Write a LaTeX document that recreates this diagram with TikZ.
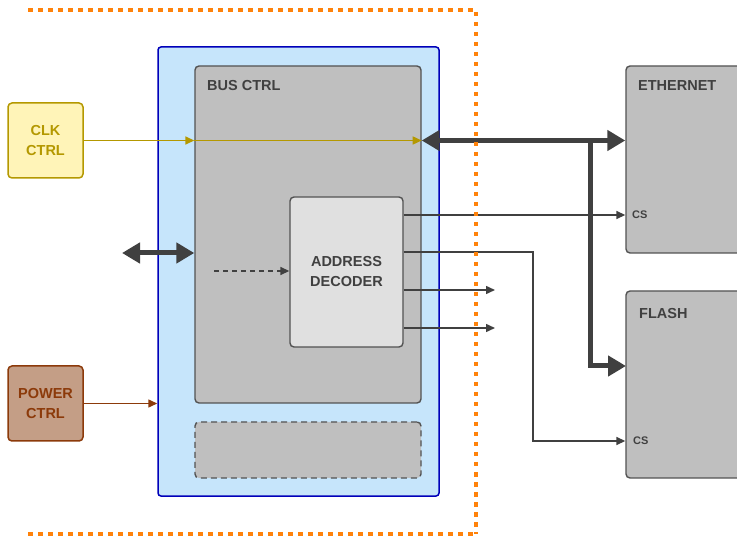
\documentclass[tikz,border=0pt]{standalone}
\usepackage{fontspec}
\setmainfont{Liberation Sans}[BoldFont={Liberation Sans Bold}]
\usetikzlibrary{arrows.meta}

\definecolor{socfill}{RGB}{198,229,251}
\definecolor{socline}{RGB}{0,0,185}
\definecolor{boxfill}{RGB}{191,191,191}
\definecolor{boxline}{RGB}{82,82,82}
\definecolor{decfill}{RGB}{224,224,224}
\definecolor{clkfill}{RGB}{255,244,184}
\definecolor{clkline}{RGB}{180,152,0}
\definecolor{pwrfill}{RGB}{196,158,134}
\definecolor{pwrline}{RGB}{140,58,10}
\definecolor{txtgray}{RGB}{64,64,64}
\definecolor{fence}{RGB}{255,130,10}

\tikzset{
  blk/.style={draw=boxline,fill=boxfill,line width=1.4pt,rounded corners=4pt,inner sep=0pt},
  lbl/.style={font=\bfseries\fontsize{14.5}{20}\selectfont,text=txtgray,inner sep=0pt,align=center},
  cslbl/.style={font=\bfseries\fontsize{11}{13}\selectfont,text=txtgray,inner sep=0pt,anchor=west},
  sig/.style={draw=txtgray,line width=1.5pt,-{Triangle[length=9pt,width=8pt]}},
  bus/.style={draw=txtgray,line width=5pt,-{Triangle[length=18pt,width=20pt]}},
  fencedots/.style={fence,line width=4.5pt,dash pattern=on 4.5pt off 5.5pt},
}

\begin{document}
\begin{tikzpicture}[x=1pt,y=1pt,yscale=-1]
\useasboundingbox (0,0) rectangle (737,537);

%Shape: Rectangle (soc)
\node[draw=socline,fill=socfill,line width=1.5pt,rounded corners=3pt,inner sep=0pt,
      minimum width=281pt,minimum height=449pt] (soc) at (298.5,271.5) {};
%Shape: Rectangle (bus ctrl)
\node[blk,minimum width=226pt,minimum height=337pt] (busctrl) at (308,234.5) {};
\node[lbl,anchor=west] (buslbl) at (207,86) {BUS CTRL};
%Shape: Rectangle (dashed)
\node[blk,dashed,dash pattern=on 6pt off 4pt,minimum width=226pt,minimum height=56pt] (spare) at (308,450) {};
%Shape: Rectangle (decoder)
\node[blk,fill=decfill,minimum width=113pt,minimum height=150pt,lbl] (dec) at (346.5,272) {ADDRESS\\DECODER};

%Shape: Rectangle (clk)
\node[draw=clkline,fill=clkfill,line width=1.5pt,rounded corners=4pt,minimum size=75pt,lbl,text=clkline] (clk) at (45.5,140.5) {CLK\\CTRL};
%Shape: Rectangle (power)
\node[draw=pwrline,fill=pwrfill,line width=1.5pt,rounded corners=4pt,minimum size=75pt,lbl,text=pwrline] (pwr) at (45.5,403.5) {POWER\\CTRL};

%Shape: Rectangle (ethernet)
\node[blk,minimum width=120pt,minimum height=187pt] (eth) at (686,159.5) {};
\node[lbl,anchor=west] (ethlbl) at (638,86) {ETHERNET};
\node[cslbl] (ethcs) at (632,215) {CS};
%Shape: Rectangle (flash)
\node[blk,minimum width=120pt,minimum height=187pt] (flash) at (686,384.5) {};
\node[lbl,anchor=west] (flashlbl) at (639,314) {FLASH};
\node[cslbl] (flashcs) at (633,441) {CS};

%Coordinates
\coordinate (ext) at (122,253);
\coordinate (dsrc) at (214,271);
\coordinate (br) at (590,141);
\coordinate (flbus) at (626,366);
\coordinate (out1) at (495,290);
\coordinate (out2) at (495,328);
\coordinate (jog) at (533,252);

%Straight Lines (clock)
\draw[sig,draw=clkline,clkline] (clk.east) -- (clk.east -| busctrl.west);
\draw[sig,draw=clkline,clkline] (clk.east -| busctrl.west) -- (clk.east -| busctrl.east);
%Straight Lines (power)
\draw[sig,draw=pwrline,pwrline] (pwr.east) -- (pwr.east -| soc.west);

%Straight Lines (buses)
\draw[bus,{Triangle[length=18pt,width=20pt]}-{Triangle[length=18pt,width=20pt]}] (ext) -- (ext -| busctrl.west);
\draw[bus,{Triangle[length=18pt,width=20pt]}-{Triangle[length=18pt,width=20pt]}] (clk.east -| busctrl.east) -- (clk.east -| eth.west);
\draw[bus,line join=miter] (br) |- (flbus);

%Straight Lines (decoder)
\draw[sig,dashed,dash pattern=on 5pt off 4pt] (dsrc) -- (dsrc -| dec.west);
\draw[sig] (dec.east |- ethcs.west) -- (ethcs.west -| eth.west);
\draw[sig] (dec.east |- jog) -- (jog) |- (flashcs.west -| flash.west);
\draw[sig] (dec.east |- out1) -- (out1);
\draw[sig] (dec.east |- out2) -- (out2);

%Straight Lines (chip boundary)
\draw[fencedots] (28,10) -- (476,10) -- (476,534);
\draw[fencedots] (28,534) -- (476,534);

\end{tikzpicture}
\end{document}
